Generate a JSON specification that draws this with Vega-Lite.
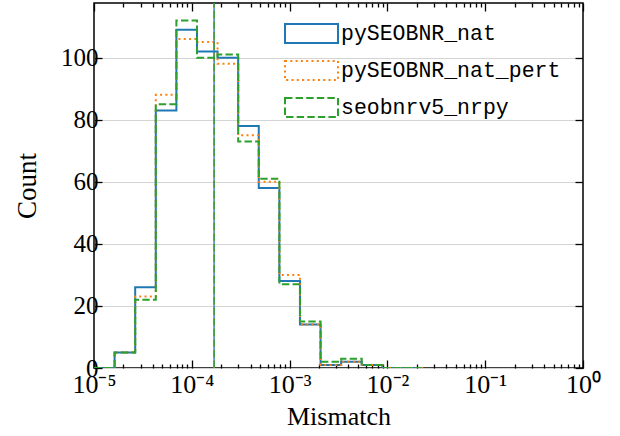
{
  "$schema": "https://vega.github.io/schema/vega-lite/v6.json",
  "width": 489,
  "height": 365,
  "autosize": {"type": "none"},
  "padding": {"left": 94, "top": 3, "right": 37, "bottom": 68},
  "background": "white",
  "config": {
    "view": {"stroke": "#000000", "strokeWidth": 1.5},
    "font": "Liberation Serif",
    "axis": {"domain": false, "tickColor": "#000000", "tickWidth": 1.3, "labelColor": "#000000", "titleColor": "#000000", "titleFontWeight": "normal"}
  },
  "datasets": {
    "hist": [
      {"series": "pySEOBNR_nat", "edge": 1.0e-5, "count": 0},
      {"series": "pySEOBNR_nat", "edge": 1.6241e-5, "count": 5},
      {"series": "pySEOBNR_nat", "edge": 2.6374e-5, "count": 26},
      {"series": "pySEOBNR_nat", "edge": 4.2832e-5, "count": 83},
      {"series": "pySEOBNR_nat", "edge": 6.956e-5, "count": 109},
      {"series": "pySEOBNR_nat", "edge": 1.1297e-4, "count": 102},
      {"series": "pySEOBNR_nat", "edge": 1.8347e-4, "count": 100},
      {"series": "pySEOBNR_nat", "edge": 2.9796e-4, "count": 78},
      {"series": "pySEOBNR_nat", "edge": 4.839e-4, "count": 58},
      {"series": "pySEOBNR_nat", "edge": 7.859e-4, "count": 28},
      {"series": "pySEOBNR_nat", "edge": 1.2763e-3, "count": 14},
      {"series": "pySEOBNR_nat", "edge": 2.0728e-3, "count": 1},
      {"series": "pySEOBNR_nat", "edge": 3.366e-3, "count": 2},
      {"series": "pySEOBNR_nat", "edge": 5.467e-3, "count": 1},
      {"series": "pySEOBNR_nat", "edge": 8.878e-3, "count": 0},
      {"series": "pySEOBNR_nat", "edge": 1.4418e-2, "count": 0},
      {"series": "pySEOBNR_nat", "edge": 2.3415e-2, "count": 0},
      {"series": "pySEOBNR_nat_pert", "edge": 1.0e-5, "count": 0},
      {"series": "pySEOBNR_nat_pert", "edge": 1.6241e-5, "count": 5},
      {"series": "pySEOBNR_nat_pert", "edge": 2.6374e-5, "count": 23},
      {"series": "pySEOBNR_nat_pert", "edge": 4.2832e-5, "count": 88},
      {"series": "pySEOBNR_nat_pert", "edge": 6.956e-5, "count": 106},
      {"series": "pySEOBNR_nat_pert", "edge": 1.1297e-4, "count": 105},
      {"series": "pySEOBNR_nat_pert", "edge": 1.8347e-4, "count": 98},
      {"series": "pySEOBNR_nat_pert", "edge": 2.9796e-4, "count": 75},
      {"series": "pySEOBNR_nat_pert", "edge": 4.839e-4, "count": 60},
      {"series": "pySEOBNR_nat_pert", "edge": 7.859e-4, "count": 30},
      {"series": "pySEOBNR_nat_pert", "edge": 1.2763e-3, "count": 14},
      {"series": "pySEOBNR_nat_pert", "edge": 2.0728e-3, "count": 1},
      {"series": "pySEOBNR_nat_pert", "edge": 3.366e-3, "count": 2},
      {"series": "pySEOBNR_nat_pert", "edge": 5.467e-3, "count": 1},
      {"series": "pySEOBNR_nat_pert", "edge": 8.878e-3, "count": 0},
      {"series": "pySEOBNR_nat_pert", "edge": 1.4418e-2, "count": 0},
      {"series": "pySEOBNR_nat_pert", "edge": 2.3415e-2, "count": 0},
      {"series": "seobnrv5_nrpy", "edge": 1.0e-5, "count": 0},
      {"series": "seobnrv5_nrpy", "edge": 1.6241e-5, "count": 5},
      {"series": "seobnrv5_nrpy", "edge": 2.6374e-5, "count": 22},
      {"series": "seobnrv5_nrpy", "edge": 4.2832e-5, "count": 85},
      {"series": "seobnrv5_nrpy", "edge": 6.956e-5, "count": 112},
      {"series": "seobnrv5_nrpy", "edge": 1.1297e-4, "count": 100},
      {"series": "seobnrv5_nrpy", "edge": 1.8347e-4, "count": 101},
      {"series": "seobnrv5_nrpy", "edge": 2.9796e-4, "count": 73},
      {"series": "seobnrv5_nrpy", "edge": 4.839e-4, "count": 61},
      {"series": "seobnrv5_nrpy", "edge": 7.859e-4, "count": 27},
      {"series": "seobnrv5_nrpy", "edge": 1.2763e-3, "count": 15},
      {"series": "seobnrv5_nrpy", "edge": 2.0728e-3, "count": 2},
      {"series": "seobnrv5_nrpy", "edge": 3.366e-3, "count": 3},
      {"series": "seobnrv5_nrpy", "edge": 5.467e-3, "count": 1},
      {"series": "seobnrv5_nrpy", "edge": 8.878e-3, "count": 0},
      {"series": "seobnrv5_nrpy", "edge": 1.4418e-2, "count": 0},
      {"series": "seobnrv5_nrpy", "edge": 2.3415e-2, "count": 0}
    ],
    "medians": [
      {"series": "pySEOBNR_nat", "median": 1.69e-4},
      {"series": "pySEOBNR_nat_pert", "median": 1.69e-4},
      {"series": "seobnrv5_nrpy", "median": 1.69e-4}
    ]
  },
  "layer": [
    {
      "data": {"name": "hist"},
      "mark": {"type": "line", "interpolate": "step-after", "strokeWidth": 2, "clip": true},
      "encoding": {
        "x": {
          "field": "edge", "type": "quantitative",
          "scale": {"type": "log", "domain": [1e-5, 1], "nice": false},
          "axis": {
            "orient": "bottom", "title": "Mismatch", "titleFontSize": 26, "titlePadding": 2,
            "values": [1e-5, 2e-5, 3e-5, 4e-5, 5e-5, 6e-5, 7e-5, 8e-5, 9e-5,
                       1e-4, 2e-4, 3e-4, 4e-4, 5e-4, 6e-4, 7e-4, 8e-4, 9e-4,
                       1e-3, 2e-3, 3e-3, 4e-3, 5e-3, 6e-3, 7e-3, 8e-3, 9e-3,
                       1e-2, 2e-2, 3e-2, 4e-2, 5e-2, 6e-2, 7e-2, 8e-2, 9e-2,
                       1e-1, 2e-1, 3e-1, 4e-1, 5e-1, 6e-1, 7e-1, 8e-1, 9e-1, 1],
            "labelExpr": "abs(log(datum.value)/LN10 - round(log(datum.value)/LN10)) < 0.01 ? ['10⁻⁵','10⁻⁴','10⁻³','10⁻²','10⁻¹','10⁰'][round(log(datum.value)/LN10) + 5] : ''",
            "labelFontSize": 26, "labelPadding": 11, "labelOverlap": false, "labelFlush": false, "labelBound": false,
            "tickSize": {"condition": {"test": "abs(log(datum.value)/LN10 - round(log(datum.value)/LN10)) < 0.01", "value": -8}, "value": -4},
            "grid": false
          }
        },
        "y": {
          "field": "count", "type": "quantitative",
          "scale": {"domain": [0, 117.6], "nice": false, "zero": true},
          "axis": {
            "orient": "left", "title": "Count", "titleFontSize": 27, "titlePadding": 19,
            "values": [0, 20, 40, 60, 80, 100],
            "labelFontSize": 25, "labelPadding": 4, "tickSize": -8,
            "grid": true, "gridColor": "#d4d4d4", "gridWidth": 1
          }
        },
        "color": {
          "field": "series", "type": "nominal",
          "scale": {"domain": ["pySEOBNR_nat", "pySEOBNR_nat_pert", "seobnrv5_nrpy"], "range": ["#1f77b4", "#ff7f0e", "#2ca02c"]},
          "legend": {
            "orient": "none", "legendX": 203, "legendY": 16, "title": null,
            "symbolType": "M-2,-0.72H2V0.72H-2Z", "symbolSize": 702, "symbolStrokeWidth": 2,
            "symbolFillColor": "transparent",
            "labelFont": "Liberation Mono", "labelFontSize": 21.5, "labelColor": "#000000", "labelLimit": 0,
            "labelOffset": 15, "rowPadding": 8, "padding": 0, "offset": 0
          }
        },
        "strokeDash": {
          "field": "series", "type": "nominal",
          "scale": {"domain": ["pySEOBNR_nat", "pySEOBNR_nat_pert", "seobnrv5_nrpy"], "range": [[1, 0], [2, 3.3], [7.4, 3.2]]}
        }
      }
    },
    {
      "data": {"name": "medians"},
      "mark": {"type": "rule", "strokeWidth": 1.3},
      "encoding": {
        "x": {
          "field": "median", "type": "quantitative",
          "axis": {
            "orient": "top", "title": null, "labels": false, "grid": false,
            "values": [1e-5, 2e-5, 3e-5, 4e-5, 5e-5, 6e-5, 7e-5, 8e-5, 9e-5,
                       1e-4, 2e-4, 3e-4, 4e-4, 5e-4, 6e-4, 7e-4, 8e-4, 9e-4,
                       1e-3, 2e-3, 3e-3, 4e-3, 5e-3, 6e-3, 7e-3, 8e-3, 9e-3,
                       1e-2, 2e-2, 3e-2, 4e-2, 5e-2, 6e-2, 7e-2, 8e-2, 9e-2,
                       1e-1, 2e-1, 3e-1, 4e-1, 5e-1, 6e-1, 7e-1, 8e-1, 9e-1, 1],
            "tickSize": {"condition": {"test": "abs(log(datum.value)/LN10 - round(log(datum.value)/LN10)) < 0.01", "value": -8}, "value": -4}
          }
        },
        "y": {
          "datum": 0, "type": "quantitative",
          "axis": {"orient": "right", "title": null, "labels": false, "grid": false, "values": [0, 20, 40, 60, 80, 100], "tickSize": -8}
        },
        "y2": {"datum": 117.6},
        "color": {"field": "series", "type": "nominal"},
        "strokeDash": {"field": "series", "type": "nominal"}
      }
    }
  ],
  "resolve": {"axis": {"x": "independent", "y": "independent"}}
}
